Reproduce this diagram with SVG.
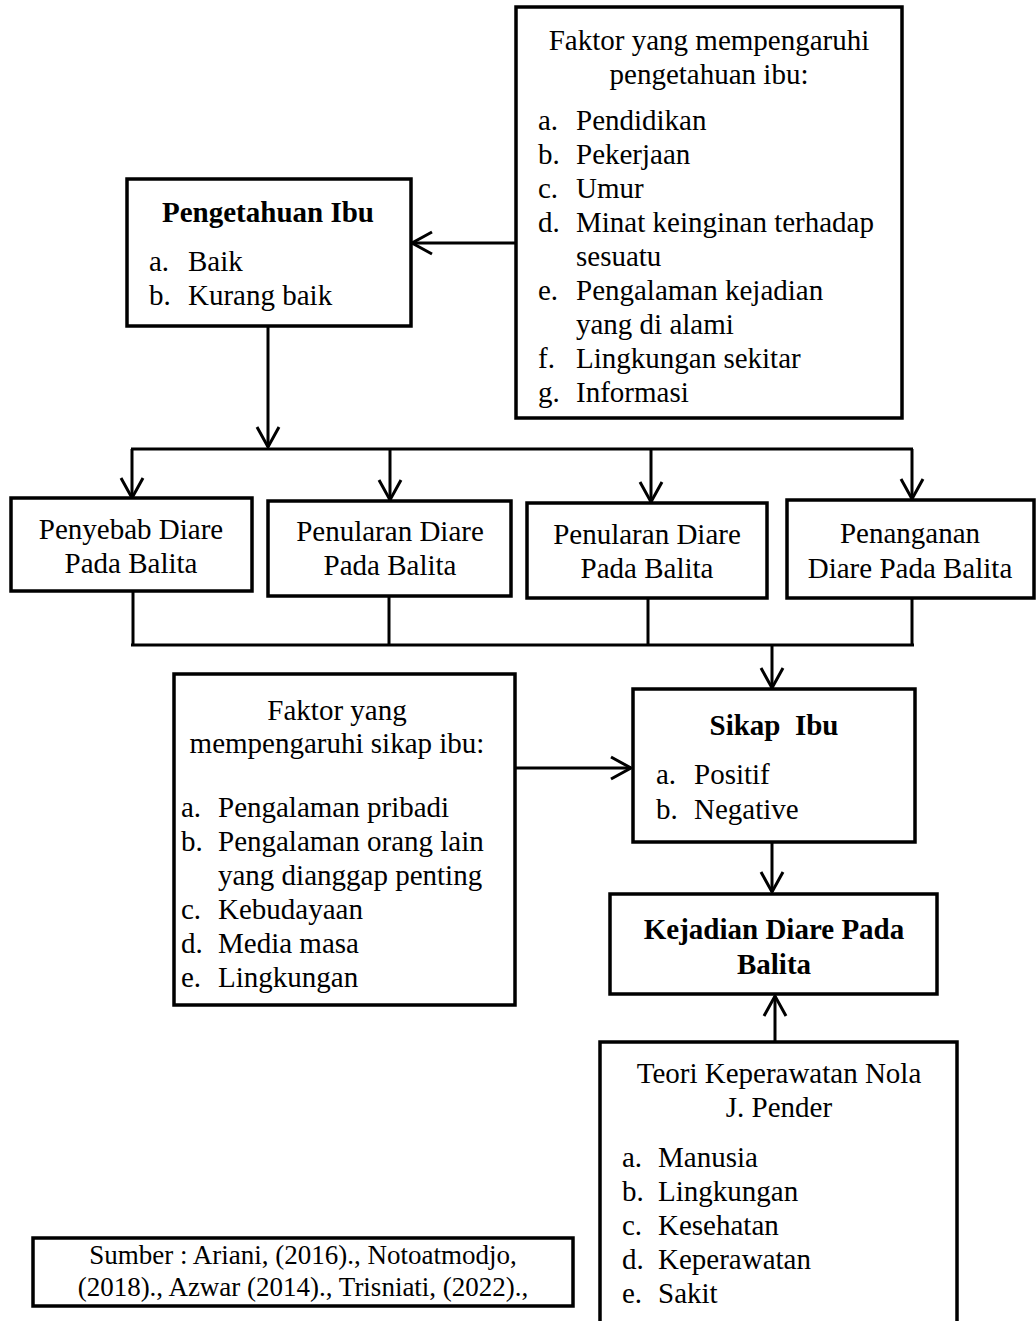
<svg xmlns="http://www.w3.org/2000/svg" width="1036" height="1321" viewBox="0 0 1036 1321">
<style>
.box{fill:#fff;stroke:#000;stroke-width:3.5}
.ln{fill:none;stroke:#000;stroke-width:3}
text{font-family:"Liberation Serif","Times New Roman",serif;font-size:29px;fill:#000}
.c{text-anchor:middle}
.b{font-weight:bold}
.s{font-size:27px}
</style>
<defs>
<marker id="arr" markerUnits="userSpaceOnUse" markerWidth="30" markerHeight="30" viewBox="-24 -15 28 30" refX="0" refY="0" orient="auto">
<path d="M-20,-11 L0,0 L-20,11" fill="none" stroke="#000" stroke-width="3"/>
</marker>
</defs>
<rect width="1036" height="1321" fill="#fff"/>

<g id="connectors">
<line class="ln" x1="516" y1="243" x2="412" y2="243" marker-end="url(#arr)"/>
<line class="ln" x1="268" y1="326" x2="268" y2="447" marker-end="url(#arr)"/>
<line class="ln" x1="131" y1="449" x2="913" y2="449"/>
<line class="ln" x1="132" y1="449" x2="132" y2="498" marker-end="url(#arr)"/>
<line class="ln" x1="390" y1="449" x2="390" y2="500" marker-end="url(#arr)"/>
<line class="ln" x1="651" y1="449" x2="651" y2="502" marker-end="url(#arr)"/>
<line class="ln" x1="912" y1="449" x2="912" y2="499" marker-end="url(#arr)"/>
<line class="ln" x1="133" y1="591" x2="133" y2="645"/>
<line class="ln" x1="389" y1="596" x2="389" y2="645"/>
<line class="ln" x1="648" y1="598" x2="648" y2="645"/>
<line class="ln" x1="912" y1="598" x2="912" y2="645"/>
<line class="ln" x1="131" y1="645" x2="914" y2="645"/>
<line class="ln" x1="772" y1="645" x2="772" y2="688" marker-end="url(#arr)"/>
<line class="ln" x1="515" y1="768" x2="631" y2="768" marker-end="url(#arr)"/>
<line class="ln" x1="772" y1="842" x2="772" y2="892" marker-end="url(#arr)"/>
<line class="ln" x1="775" y1="1042" x2="775" y2="996" marker-end="url(#arr)"/>
</g>

<g id="faktor-pengetahuan">
<rect class="box" x="516" y="7" width="386" height="411"/>
<text class="c" x="709" y="50">Faktor yang mempengaruhi</text>
<text class="c" x="709" y="84">pengetahuan ibu:</text>
<text x="538" y="130">a.</text><text x="576" y="130">Pendidikan</text>
<text x="538" y="164">b.</text><text x="576" y="164">Pekerjaan</text>
<text x="538" y="198">c.</text><text x="576" y="198">Umur</text>
<text x="538" y="232">d.</text><text x="576" y="232">Minat keinginan terhadap</text>
<text x="576" y="266">sesuatu</text>
<text x="538" y="300">e.</text><text x="576" y="300">Pengalaman kejadian</text>
<text x="576" y="334">yang di alami</text>
<text x="538" y="368">f.</text><text x="576" y="368">Lingkungan sekitar</text>
<text x="538" y="402">g.</text><text x="576" y="402">Informasi</text>
</g>

<g id="pengetahuan-ibu">
<rect class="box" x="127" y="179" width="284" height="147"/>
<text class="c b" x="268" y="222">Pengetahuan Ibu</text>
<text x="149" y="271">a.</text><text x="188" y="271">Baik</text>
<text x="149" y="305">b.</text><text x="188" y="305">Kurang baik</text>
</g>

<g id="penyebab">
<rect class="box" x="11" y="498" width="241" height="93"/>
<text class="c" x="131" y="539">Penyebab Diare</text>
<text class="c" x="131" y="573">Pada Balita</text>
</g>

<g id="penularan1">
<rect class="box" x="268" y="501" width="243" height="95"/>
<text class="c" x="390" y="541">Penularan Diare</text>
<text class="c" x="390" y="575">Pada Balita</text>
</g>

<g id="penularan2">
<rect class="box" x="527" y="503" width="240" height="95"/>
<text class="c" x="647" y="544">Penularan Diare</text>
<text class="c" x="647" y="578">Pada Balita</text>
</g>

<g id="penanganan">
<rect class="box" x="787" y="500" width="247" height="98"/>
<text class="c" x="910" y="543">Penanganan</text>
<text class="c" x="910" y="578">Diare Pada Balita</text>
</g>

<g id="faktor-sikap">
<rect class="box" x="174" y="674" width="341" height="331"/>
<text class="c" x="337" y="720">Faktor yang</text>
<text class="c" x="337" y="753">mempengaruhi sikap ibu:</text>
<text x="181" y="817">a.</text><text x="218" y="817">Pengalaman pribadi</text>
<text x="181" y="851">b.</text><text x="218" y="851">Pengalaman orang lain</text>
<text x="218" y="885">yang dianggap penting</text>
<text x="181" y="919">c.</text><text x="218" y="919">Kebudayaan</text>
<text x="181" y="953">d.</text><text x="218" y="953">Media masa</text>
<text x="181" y="987">e.</text><text x="218" y="987">Lingkungan</text>
</g>

<g id="sikap-ibu">
<rect class="box" x="633" y="689" width="282" height="153"/>
<text class="c b" x="774" y="735" xml:space="preserve">Sikap  Ibu</text>
<text x="656" y="784">a.</text><text x="694" y="784">Positif</text>
<text x="656" y="819">b.</text><text x="694" y="819">Negative</text>
</g>

<g id="kejadian">
<rect class="box" x="610" y="894" width="327" height="100"/>
<text class="c b" x="774" y="939">Kejadian Diare Pada</text>
<text class="c b" x="774" y="974">Balita</text>
</g>

<g id="teori">
<rect class="box" x="600" y="1042" width="357" height="300"/>
<text class="c" x="779" y="1083">Teori Keperawatan Nola</text>
<text class="c" x="779" y="1117">J. Pender</text>
<text x="622" y="1167">a.</text><text x="658" y="1167">Manusia</text>
<text x="622" y="1201">b.</text><text x="658" y="1201">Lingkungan</text>
<text x="622" y="1235">c.</text><text x="658" y="1235">Kesehatan</text>
<text x="622" y="1269">d.</text><text x="658" y="1269">Keperawatan</text>
<text x="622" y="1303">e.</text><text x="658" y="1303">Sakit</text>
</g>

<g id="sumber">
<rect class="box" x="33" y="1238" width="540" height="68"/>
<text class="c s" x="303" y="1264">Sumber : Ariani, (2016)., Notoatmodjo,</text>
<text class="c s" x="303" y="1296">(2018)., Azwar (2014)., Trisniati, (2022).,</text>
</g>
</svg>
